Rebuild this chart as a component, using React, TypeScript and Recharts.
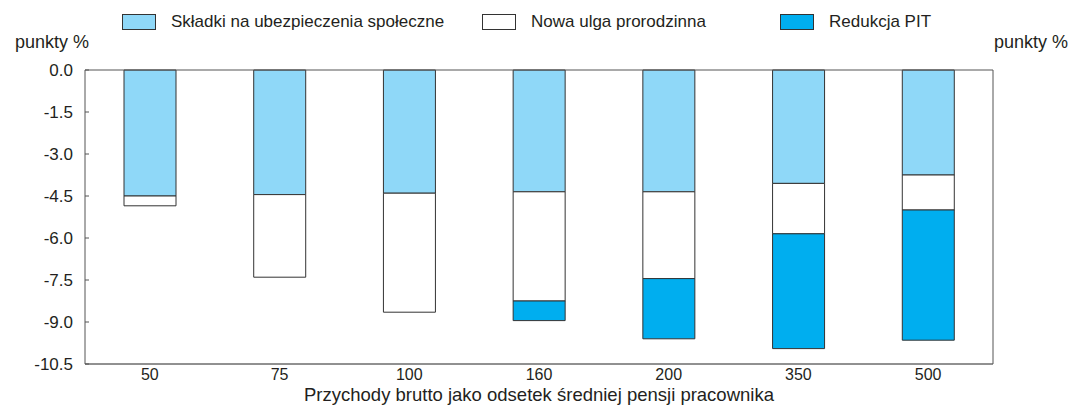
import React from "react";
import {
  BarChart,
  Bar,
  XAxis,
  YAxis,
  Legend,
  ReferenceLine,
} from "recharts";

const categories = ["50", "75", "100", "160", "200", "350", "500"];
const skladki = [-4.5, -4.45, -4.4, -4.35, -4.35, -4.05, -3.75];
const ulga = [-0.35, -2.95, -4.25, -3.9, -3.1, -1.8, -1.25];
const pit = [0, 0, 0, -0.7, -2.15, -4.1, -4.65];
const yTicks = [0, -1.5, -3, -4.5, -6, -7.5, -9, -10.5];

const seriesNames = {
  skladki: "Składki na ubezpieczenia społeczne",
  ulga: "Nowa ulga prorodzinna",
  pit: "Redukcja PIT",
};

const data = categories.map((c, i) => ({
  name: c,
  skladki: skladki[i],
  ulga: ulga[i],
  pit: pit[i],
}));

const FONT = '"Liberation Sans", Arial, Helvetica, sans-serif';
const TEXT = "#231f20";
const EDGE = "#333";
const AXIS = "#555";

const legendItems = [
  { key: "skladki", color: "#8fd8f8", left: 122 },
  { key: "ulga", color: "#ffffff", left: 482 },
  { key: "pit", color: "#00aeef", left: 780 },
];

const renderLegend = () => (
  <div style={{ position: "relative", width: 1077, height: 70, fontFamily: FONT }}>
    {legendItems.map((it) => (
      <div
        key={it.key}
        style={{ position: "absolute", left: it.left, top: 13, display: "flex", alignItems: "center" }}
      >
        <span
          style={{
            display: "inline-block",
            width: 34,
            height: 16,
            background: it.color,
            border: `1px solid ${EDGE}`,
            boxSizing: "border-box",
          }}
        />
        <span style={{ marginLeft: 15, fontSize: 17, color: TEXT, lineHeight: "18px" }}>
          {seriesNames[it.key as keyof typeof seriesNames]}
        </span>
      </div>
    ))}
  </div>
);

// y ticks with short tick marks pointing into the plot
const LeftTick = (props: any) => {
  const { x, y, payload } = props;
  const ax = x + 12;
  return (
    <g>
      <line x1={ax} x2={ax + 4} y1={y} y2={y} stroke={AXIS} />
      <text x={x} y={y} dy="0.355em" textAnchor="end" fontSize={17} fill={TEXT} fontFamily={FONT}>
        {Number(payload.value).toFixed(1)}
      </text>
    </g>
  );
};

const RightTick = (props: any) => {
  const { x, y, payload } = props;
  const ax = x - 10;
  return (
    <g>
      <line x1={ax - 5} x2={ax} y1={y} y2={y} stroke={AXIS} />
      <text x={x} y={y} dy="0.355em" textAnchor="start" fontSize={17} fill={TEXT} fontFamily={FONT}>
        {Number(payload.value).toFixed(1)}
      </text>
    </g>
  );
};

const unitLabel = (dx: number) => (props: any) => {
  const { viewBox } = props;
  return (
    <text x={viewBox.x + dx} y={48} textAnchor="middle" fontSize={18} fill={TEXT} fontFamily={FONT}>
      punkty %
    </text>
  );
};

export default function App() {
  return (
    <div style={{ position: "absolute", left: 0, top: 0, background: "#fff" }}>
      <BarChart
        width={1077}
        height={407}
        data={data}
        barSize={52}
        margin={{ top: 0, right: 0, left: 0, bottom: 0 }}
      >
        <Legend verticalAlign="top" content={renderLegend} wrapperStyle={{ top: 0, left: 0, width: 1077 }} />
        <XAxis
          dataKey="name"
          height={43}
          tickLine={false}
          tickSize={0}
          tickMargin={5}
          axisLine={{ stroke: "#222" }}
          tick={{ fontSize: 16, fill: TEXT, fontFamily: FONT }}
          label={{
            value: "Przychody brutto jako odsetek średniej pensji pracownika",
            position: "insideBottom",
            offset: 6,
            fontSize: 18.5,
            fill: TEXT,
            fontFamily: FONT,
          }}
        />
        <YAxis
          yAxisId="left"
          orientation="left"
          width={85}
          domain={[-10.5, 0]}
          ticks={yTicks}
          tickSize={0}
          tickMargin={12}
          tickLine={false}
          axisLine={{ stroke: AXIS }}
          tick={<LeftTick />}
          label={unitLabel(52)}
        />
        <YAxis
          yAxisId="right"
          orientation="right"
          width={84}
          domain={[-10.5, 0]}
          ticks={yTicks}
          tickSize={0}
          tickMargin={10}
          tickLine={false}
          axisLine={{ stroke: AXIS }}
          tick={<RightTick />}
          label={unitLabel(38)}
        />
        <ReferenceLine yAxisId="left" y={0} stroke={AXIS} />
        <Bar yAxisId="left" dataKey="skladki" stackId="a" fill="#8fd8f8" stroke={EDGE} isAnimationActive={false} />
        <Bar yAxisId="left" dataKey="ulga" stackId="a" fill="#ffffff" stroke={EDGE} isAnimationActive={false} />
        <Bar yAxisId="left" dataKey="pit" stackId="a" fill="#00aeef" stroke={EDGE} isAnimationActive={false} />
      </BarChart>
    </div>
  );
}
